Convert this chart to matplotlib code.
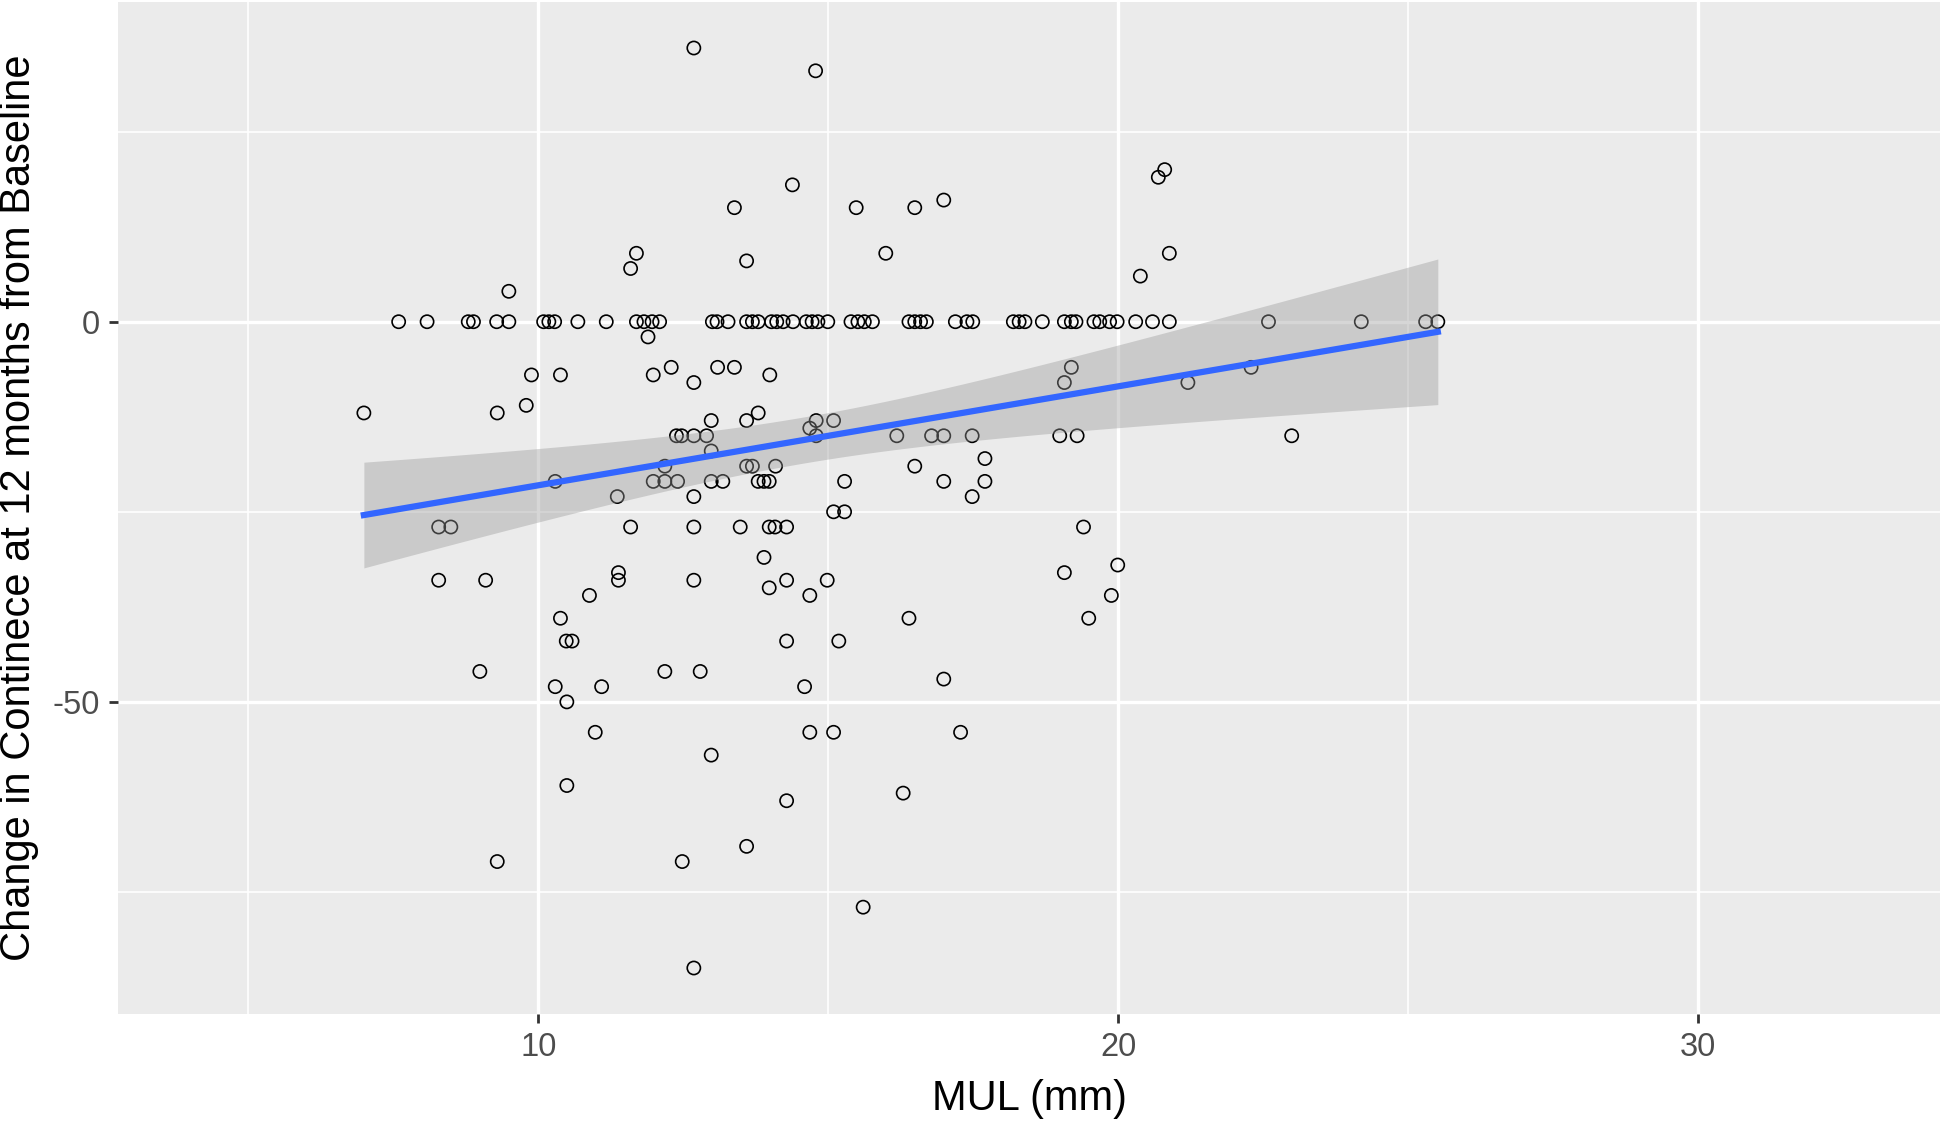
import numpy as np
import matplotlib.pyplot as plt

plt.rcParams['font.family'] = ['Liberation Sans', 'DejaVu Sans']
plt.rcParams['axes.unicode_minus'] = False

# ---------------------------------------------------------------
# data: MUL (mm) vs change in continence
# ---------------------------------------------------------------
# points sitting on the zero line
mul_zero = [7.59, 8.08, 8.79, 8.88, 9.28, 9.49, 10.09, 10.18, 10.28, 10.68, 11.17,
            11.69, 11.82, 11.96, 12.09, 13.00, 13.08, 13.27,
            13.59, 13.69, 13.79, 14.02, 14.11, 14.22, 14.39, 14.62, 14.72, 14.82, 14.99,
            15.39, 15.51, 15.62, 15.76,
            16.39, 16.49, 16.59, 16.69, 17.19, 17.39, 17.49, 18.19, 18.29, 18.39, 18.69,
            19.07, 19.19, 19.27, 19.58, 19.68, 19.85, 19.98, 20.30, 20.59, 20.88,
            22.59, 24.19, 25.30, 25.51]
change_zero = [0, 0, 0, 0, 0, 0, 0, 0, 0, 0, 0,
               0, 0, 0, 0, 0, 0, 0,
               0, 0, 0, 0, 0, 0, 0, 0, 0, 0, 0,
               0, 0, 0, 0,
               0, 0, 0, 0, 0, 0, 0, 0, 0, 0, 0,
               0, 0, 0, 0, 0, 0, 0, 0, 0, 0,
               0, 0, 0, 0]

# everything else
mul_other = [12.68, 14.78, 20.80, 20.69, 14.38, 16.99, 13.38, 15.48, 16.49,
             11.69, 15.99, 20.88, 13.59, 11.59, 20.38, 9.49,
             11.89,
             12.29, 13.09, 13.38, 19.19, 22.29,
             9.88, 10.38, 11.98, 13.99,
             12.68, 19.07, 21.20,
             9.79,
             6.99, 9.29, 13.79,
             12.98, 13.59, 14.79, 15.09,
             14.68,
             12.38, 12.47, 12.68, 12.90, 14.79, 16.18, 16.78, 16.99, 17.48, 18.99, 19.29, 22.99,
             12.98,
             17.70,
             12.18, 13.59, 13.69, 14.09, 16.49,
             10.29, 11.98, 12.18, 12.40, 12.98, 13.18, 13.79, 13.89, 13.98, 15.28, 16.99, 17.70,
             11.36, 12.68, 17.48,
             15.09, 15.28,
             8.28, 8.49, 11.59, 12.68, 13.48, 13.98, 14.08, 14.28, 19.40,
             13.89,
             19.99,
             11.38, 19.07,
             8.28, 9.09, 11.38, 12.68, 14.28, 14.98,
             13.98,
             10.88, 14.68, 19.88,
             10.38, 16.39, 19.49,
             10.48, 10.58, 14.28, 15.18,
             8.99, 12.18, 12.79,
             16.99,
             10.29, 11.09, 14.59,
             10.49,
             10.98, 14.68, 15.09, 17.28,
             12.98,
             10.49, 16.29, 14.28,
             13.59,
             9.29, 12.48,
             15.60,
             12.68]
change_other = [36, 33, 20, 19, 18, 16, 15, 15, 15,
                9, 9, 9, 8, 7, 6, 4,
                -2,
                -6, -6, -6, -6, -6,
                -7, -7, -7, -7,
                -8, -8, -8,
                -11,
                -12, -12, -12,
                -13, -13, -13, -13,
                -14,
                -15, -15, -15, -15, -15, -15, -15, -15, -15, -15, -15, -15,
                -17,
                -18,
                -19, -19, -19, -19, -19,
                -21, -21, -21, -21, -21, -21, -21, -21, -21, -21, -21, -21,
                -23, -23, -23,
                -25, -25,
                -27, -27, -27, -27, -27, -27, -27, -27, -27,
                -31,
                -32,
                -33, -33,
                -34, -34, -34, -34, -34, -34,
                -35,
                -36, -36, -36,
                -39, -39, -39,
                -42, -42, -42, -42,
                -46, -46, -46,
                -47,
                -48, -48, -48,
                -50,
                -54, -54, -54, -54,
                -57,
                -61, -62, -63,
                -69,
                -71, -71,
                -77,
                -85]

x_ticks = [10, 20, 30]
y_ticks = [-50, 0]

mul = np.array(mul_zero + mul_other, dtype=float)
change = np.array(change_zero + change_other, dtype=float)

# ---------------------------------------------------------------
# linear fit + 95% CI (like geom_smooth(method = "lm"))
# ---------------------------------------------------------------
n = len(mul)
b1, b0 = np.polyfit(mul, change, 1)
xs = np.linspace(mul.min(), mul.max(), 80)
fit = b0 + b1 * xs
resid = change - (b0 + b1 * mul)
s = np.sqrt(np.sum(resid ** 2) / (n - 2))
sxx = np.sum((mul - mul.mean()) ** 2)
se = s * np.sqrt(1 / n + (xs - mul.mean()) ** 2 / sxx)
t975 = 1.972  # t quantile, df ~ 200

# ---------------------------------------------------------------
# plot
# ---------------------------------------------------------------
W, H = 1946, 1121
fig = plt.figure(figsize=(W / 100, H / 100), dpi=100)
ax = fig.add_axes([118 / W, 1 - 1014 / H, (1940 - 118) / W, (1014 - 2) / H])
ax.set_facecolor('#EBEBEB')

ax.scatter(mul, change, s=90, facecolors='none', edgecolors='black',
           linewidths=1.2, zorder=2)
ax.fill_between(xs, fit - t975 * se, fit + t975 * se, color='#999999',
                alpha=0.4, linewidth=0, zorder=3)
ax.plot(xs, fit, color='#3366FF', linewidth=4.5, zorder=4)

ax.set_xlim(2.75, 34.17)
ax.set_ylim(-91.05, 42.05)

ax.set_xticks(x_ticks)
ax.set_yticks(y_ticks)
ax.set_xticks([5, 15, 25], minor=True)
ax.set_yticks([-75, -25, 25], minor=True)
ax.grid(which='major', color='white', linewidth=2.4)
ax.grid(which='minor', color='white', linewidth=1.2)
ax.set_axisbelow(True)

for sp in ax.spines.values():
    sp.set_visible(False)

ax.tick_params(which='major', length=6.5, width=2, color='#333333',
               labelsize=23.5, labelcolor='#4D4D4D', pad=6.5)
ax.tick_params(which='minor', length=0)

fig.text(1029 / W, 1 - 1110 / H, 'MUL (mm)', ha='center', va='baseline',
         fontsize=30, color='black')
fig.text(19 / W, 1 - 508 / H, 'Change in Continece at 12 months from Baseline',
         ha='center', va='center', rotation=90, fontsize=30, color='black')

fig.savefig('out.png', dpi=100)
